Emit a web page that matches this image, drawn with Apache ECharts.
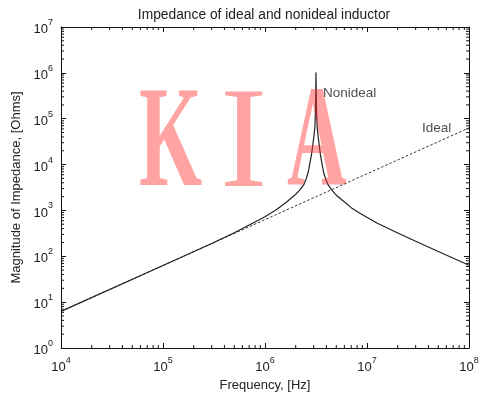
<!DOCTYPE html>
<html><head><meta charset="utf-8">
<script src="https://cdn.jsdelivr.net/npm/echarts@6/dist/echarts.min.js"></script>
<style>html,body{margin:0;padding:0;background:#fff}#c{width:500px;height:398px}</style>
</head><body><div id="c"></div>
<script>
const titleText = 'Impedance of ideal and nonideal inductor';
const xName = 'Frequency, [Hz]';
const yName = 'Magnitude of Impedance, [Ohms]';
const xMin = 1e4, xMax = 1e8, yMin = 1, yMax = 1e7;
// Ideal inductor (dotted straight line)
const idealFreq = [1e4, 1e8];
const idealZ = [6.3, 63000];
// Nonideal inductor
const nonFreq = [1e4, 1e5, 3e5, 5e5, 7e5, 1e6, 1.3e6, 1.64e6, 2e6, 2.2e6, 2.4e6, 2.52e6, 2.65e6, 2.75e6, 2.85e6, 2.95e6, 3.03e6, 3.09e6, 3.13e6, 3.16e6,
  3.19e6, 3.24e6, 3.3e6, 3.39e6, 3.5e6, 3.62e6, 3.75e6, 3.95e6, 4.15e6, 4.5e6, 5e6, 5.69e6, 7e6, 8.5e6, 1.25e7, 2e7, 3e7, 5e7, 1e8];
const nonZ = [6.3, 63, 190, 325, 480, 730, 1050, 1550, 2250, 2800, 3650, 4700, 6800, 10500, 16000, 28000, 45000, 70000, 180000, 1000000,
  180000, 70000, 45000, 28000, 16000, 10500, 6800, 4700, 3650, 2800, 2150, 1690, 1150, 865, 533, 322, 212, 127, 64];
const labelNonideal = {text: 'Nonideal', x: 3.7e6, y: 3.6e5};
const labelIdeal = {text: 'Ideal', x: 3.46e7, y: 6.2e4};
const watermark = ['K', 'I', 'A'];

// minor tick positions (2..9 in each decade)
const xMinor = [], yMinor = [];
for (let d = 4; d < 8; d++) for (let k = 2; k <= 9; k++) xMinor.push([k * Math.pow(10, d), 1]);
for (let d = 0; d < 7; d++) for (let k = 2; k <= 9; k++) yMinor.push([1e4, k * Math.pow(10, d)]);

const FONT = 'Liberation Sans';
const INK = '#222';
const rich = {
  b: {fontSize: 13, fontFamily: FONT, color: INK, lineHeight: 18, verticalAlign: 'bottom'},
  s: {fontSize: 9, fontFamily: FONT, color: INK, lineHeight: 18, verticalAlign: 'top'}
};
const supFmt = v => '{b|10}{s|' + Math.round(Math.log10(v)) + '}';
function axisBase(extra) {
  return Object.assign({
    type: 'log', logBase: 10, interval: 1,
    axisLine: {show: true, onZero: false, lineStyle: {color: '#111', width: 1}},
    axisTick: {show: true, inside: true, length: 5, lineStyle: {color: '#111', width: 1}},
    splitLine: {show: false}, minorTick: {show: false}
  }, extra);
}
const WM = 'rgba(255,50,50,0.45)';
const chart = echarts.init(document.getElementById('c'), null, {renderer: 'canvas'});
const option = {
  animation: false,
  backgroundColor: '#fff',
  title: {text: titleText, left: 259, textAlign: 'center', top: 3, textStyle: {fontFamily: FONT, fontSize: 13.8, fontWeight: 'normal', color: INK}},
  grid: {left: 61, right: 31, top: 27, bottom: 50},
  xAxis: [
    axisBase({min: xMin, max: xMax, position: 'bottom', name: xName, nameLocation: 'middle', nameGap: 27,
      nameTextStyle: {fontFamily: FONT, fontSize: 13, color: INK},
      axisLabel: {formatter: supFmt, rich: rich, margin: 8}}),
    axisBase({min: xMin, max: xMax, position: 'top', axisLabel: {show: false}})
  ],
  yAxis: [
    axisBase({min: yMin, max: yMax, position: 'left', name: yName, nameLocation: 'middle', nameGap: 35,
      nameTextStyle: {fontFamily: FONT, fontSize: 13, color: INK},
      axisLabel: {formatter: supFmt, rich: rich, margin: 8}}),
    axisBase({min: yMin, max: yMax, position: 'right', axisLabel: {show: false}})
  ],
  series: [
    {type: 'line', name: 'Ideal', data: idealFreq.map((f, i) => [f, idealZ[i]]), showSymbol: false, symbol: 'none',
      lineStyle: {color: '#333', width: 1, type: [2.5, 2]}, z: 3},
    {type: 'line', name: 'Nonideal', data: nonFreq.map((f, i) => [f, nonZ[i]]), showSymbol: false, symbol: 'none',
      lineStyle: {color: '#222', width: 1.2, join: 'round'}, z: 4},
    {type: 'scatter', symbolSize: 0, data: [[labelNonideal.x, labelNonideal.y, labelNonideal.text], [labelIdeal.x, labelIdeal.y, labelIdeal.text]],
      label: {show: true, position: 'right', distance: 0, formatter: p => p.data[2], fontFamily: FONT, fontSize: 13.5, color: INK}, z: 5},
    {type: 'custom', data: xMinor, clip: false, z: 2, silent: true,
      renderItem: (params, api) => {
        const v = api.value(0);
        const b = api.coord([v, yMin]), t = api.coord([v, yMax]);
        return {type: 'group', children: [
          {type: 'line', shape: {x1: b[0], y1: b[1], x2: b[0], y2: b[1] - 3}, style: {stroke: '#111', lineWidth: 1}},
          {type: 'line', shape: {x1: t[0], y1: t[1], x2: t[0], y2: t[1] + 3}, style: {stroke: '#111', lineWidth: 1}}
        ]};
      }},
    {type: 'custom', data: yMinor, clip: false, z: 2, silent: true,
      renderItem: (params, api) => {
        const v = api.value(1);
        const l = api.coord([xMin, v]), r = api.coord([xMax, v]);
        return {type: 'group', children: [
          {type: 'line', shape: {x1: l[0], y1: l[1], x2: l[0] + 3, y2: l[1]}, style: {stroke: '#111', lineWidth: 1}},
          {type: 'line', shape: {x1: r[0], y1: r[1], x2: r[0] - 3, y2: r[1]}, style: {stroke: '#111', lineWidth: 1}}
        ]};
      }}
  ],
  graphic: [
    {type: 'text', x: 139, y: 220, scaleX: 0.56, z: 100, style: {x: 0, y: 0, text: watermark[0], font: 'bold 145px "Liberation Serif"', fill: WM, align: 'left', verticalAlign: 'bottom'}},
    {type: 'text', x: 220, y: 220, scaleX: 0.98, z: 100, style: {x: 0, y: 0, text: watermark[1], font: '145px "Liberation Serif"', fill: WM, align: 'left', verticalAlign: 'bottom'}},
    {type: 'text', x: 287, y: 220, scaleX: 0.57, z: 100, style: {x: 0, y: 0, text: watermark[2], font: 'bold 145px "Liberation Serif"', fill: WM, align: 'left', verticalAlign: 'bottom'}}
  ]
};
chart.setOption(option);
</script></body></html>
